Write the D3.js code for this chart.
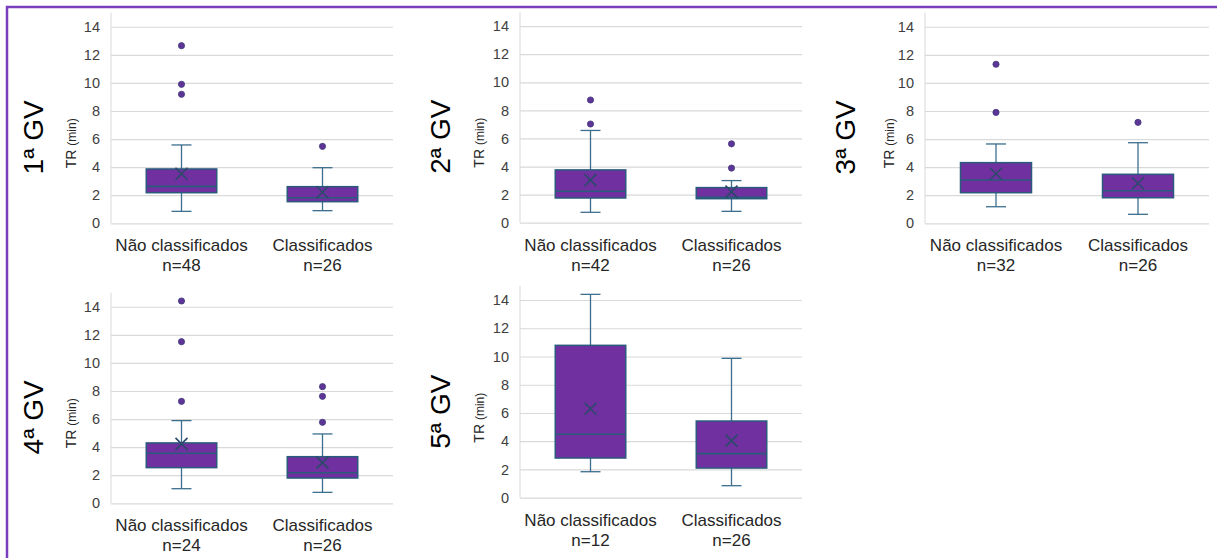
<!DOCTYPE html>
<html>
<head>
<meta charset="utf-8">
<script src="https://cdn.jsdelivr.net/npm/d3@7"></script>
<style>
  html, body { margin: 0; padding: 0; background: #fff; }
  svg { display: block; font-family: "Liberation Sans", Arial, sans-serif; }
</style>
</head>
<body>
<svg id="chart" width="1217" height="558"></svg>
<script>
// ---- Data ----
const groups = ["1ª GV", "2ª GV", "3ª GV", "4ª GV", "5ª GV"];
const categories = ["Não classificados", "Classificados"];
const nNaoClassificados = [48, 42, 32, 24, 12];
const nClassificados = [26, 26, 26, 26, 26];
const yTicks = [0, 2, 4, 6, 8, 10, 12, 14];
const yMax = 15;

// per group: [Não classificados, Classificados]
const whiskerMin = [[0.85, 0.90], [0.74, 0.81], [1.18, 0.64], [1.04, 0.78], [1.84, 0.85]];
const q1 =         [[2.18, 1.54], [1.76, 1.71], [2.18, 1.82], [2.54, 1.80], [2.81, 2.10]];
const median =     [[2.63, 1.82], [2.24, 1.81], [3.08, 2.32], [3.56, 2.18], [4.49, 3.12]];
const q3 =         [[3.87, 2.61], [3.76, 2.50], [4.32, 3.49], [4.30, 3.32], [10.79, 5.43]];
const whiskerMax = [[5.58, 3.96], [6.57, 3.00], [5.65, 5.74], [5.89, 4.94], [14.40, 9.87]];
const mean =       [[3.53, 2.21], [3.03, 2.21], [3.53, 2.85], [4.23, 2.90], [6.30, 4.04]];
const outliers = [
  [[12.65, 9.90, 9.19], [5.48]],
  [[8.74, 7.03], [5.62, 3.89]],
  [[11.33, 7.90], [7.19]],
  [[14.41, 11.51, 7.26], [8.31, 7.62, 5.77]],
  [[], []]
];

// ---- Layout ----
const frames = [
  { x0: 111, x1: 393, yb: 223.3, yt: 12.7, gx: 33,  tx: 71 },
  { x0: 520, x1: 802, yb: 222.7, yt: 12.1, gx: 440, tx: 479 },
  { x0: 925, x1: 1209, yb: 223.3, yt: 12.7, gx: 845, tx: 889 },
  { x0: 111, x1: 393, yb: 503.3, yt: 292.7, gx: 33,  tx: 71 },
  { x0: 520, x1: 802, yb: 497.7, yt: 285.9, gx: 440, tx: 479 }
];

const C = {
  grid: "#d9d9d9",
  tick: "#404040",
  cat: "#262626",
  boxFill: "#7030a0",
  boxStroke: "#2a5a7c",
  whisker: "#3c6e8e",
  meanMark: "#2b4a6b",
  dotFill: "#5e3596",
  dotStroke: "#3d3a7c",
  border: "#7b3fbe"
};

const svg = d3.select("#chart");

// outer border (top and left)
svg.append("path")
  .attr("d", "M7,558 V7 H1217")
  .attr("fill", "none")
  .attr("stroke", C.border)
  .attr("stroke-width", 2.5);

groups.forEach((g, gi) => {
  const f = frames[gi];
  const y = d3.scaleLinear().domain([0, yMax]).range([f.yb, f.yt]);
  const x = d3.scaleBand().domain(categories).range([f.x0, f.x1]);
  const bw = x.bandwidth() * 0.5;
  const capW = 20;
  const panel = svg.append("g");

  // gridlines + tick labels
  const yAxis = d3.axisLeft(y).tickValues(yTicks).tickSize(-(f.x1 - f.x0)).tickPadding(11).tickFormat(d3.format("d"));
  const ax = panel.append("g").attr("transform", `translate(${f.x0},0)`).call(yAxis);
  ax.attr("font-size", null).attr("font-family", null);
  ax.select(".domain").attr("stroke", C.grid).attr("stroke-width", 1)
    .attr("d", `M0,${y(yMax)}V${y(0)}`);
  ax.selectAll(".tick line").attr("stroke", C.grid).attr("stroke-width", 1.2);
  ax.selectAll(".tick text").attr("fill", C.tick)
    .style("font-size", "14.5px")
    .style("font-family", "'Liberation Sans', Arial, sans-serif");

  // category labels
  const nvals = [nNaoClassificados[gi], nClassificados[gi]];
  categories.forEach((c, ci) => {
    const cx = x(c) + x.bandwidth() / 2;
    panel.append("text")
      .attr("x", cx).attr("y", f.yb + 22)
      .attr("text-anchor", "middle").attr("dy", "0.35em")
      .style("font-size", "17px").attr("fill", C.cat)
      .text(c);
    panel.append("text")
      .attr("x", cx).attr("y", f.yb + 42)
      .attr("text-anchor", "middle").attr("dy", "0.35em")
      .style("font-size", "17px").attr("fill", C.cat)
      .text("n=" + nvals[ci]);
  });

  // group label
  panel.append("text")
    .attr("transform", `translate(${f.gx + 10},${f.yb - 86}) rotate(-90)`)
    .attr("text-anchor", "middle")
    .style("font-size", "28px").attr("fill", "#000")
    .text(g);

  // axis title
  const tt = panel.append("text")
    .attr("transform", `translate(${f.tx + 5},${f.yb - 80}) rotate(-90)`)
    .attr("text-anchor", "middle")
    .attr("fill", "#262626");
  tt.append("tspan").style("font-size", "14px").text("TR ");
  tt.append("tspan").style("font-size", "12px").text("(min)");

  // boxes
  categories.forEach((c, ci) => {
    const cx = x(c) + x.bandwidth() / 2;
    const lo = whiskerMin[gi][ci], a = q1[gi][ci], m = median[gi][ci],
          b = q3[gi][ci], hi = whiskerMax[gi][ci], mu = mean[gi][ci];
    const wl = (y1, y2, x1, x2) => panel.append("line")
      .attr("x1", x1).attr("x2", x2).attr("y1", y1).attr("y2", y2)
      .attr("stroke", C.whisker).attr("stroke-width", 1.3);
    wl(y(b), y(hi), cx, cx);
    wl(y(lo), y(a), cx, cx);
    wl(y(hi), y(hi), cx - capW / 2, cx + capW / 2);
    wl(y(lo), y(lo), cx - capW / 2, cx + capW / 2);
    // box
    panel.append("rect")
      .attr("x", cx - bw / 2).attr("width", bw)
      .attr("y", y(b)).attr("height", y(a) - y(b))
      .attr("fill", C.boxFill).attr("stroke", C.boxStroke).attr("stroke-width", 1.5);
    // median
    panel.append("line").attr("x1", cx - bw / 2).attr("x2", cx + bw / 2).attr("y1", y(m)).attr("y2", y(m))
      .attr("stroke", C.boxStroke).attr("stroke-width", 1.6);
    // mean X
    const s = 6, my = y(mu);
    panel.append("path")
      .attr("d", `M${cx - s},${my - s}L${cx + s},${my + s}M${cx - s},${my + s}L${cx + s},${my - s}`)
      .attr("stroke", C.meanMark).attr("stroke-width", 1.6).attr("fill", "none");
    // outliers
    panel.selectAll(null).data(outliers[gi][ci]).enter().append("circle")
      .attr("cx", cx).attr("cy", d => y(d)).attr("r", 3.1)
      .attr("fill", C.dotFill).attr("stroke", C.dotStroke).attr("stroke-width", 0.8);
  });
});
</script>
</body>
</html>
